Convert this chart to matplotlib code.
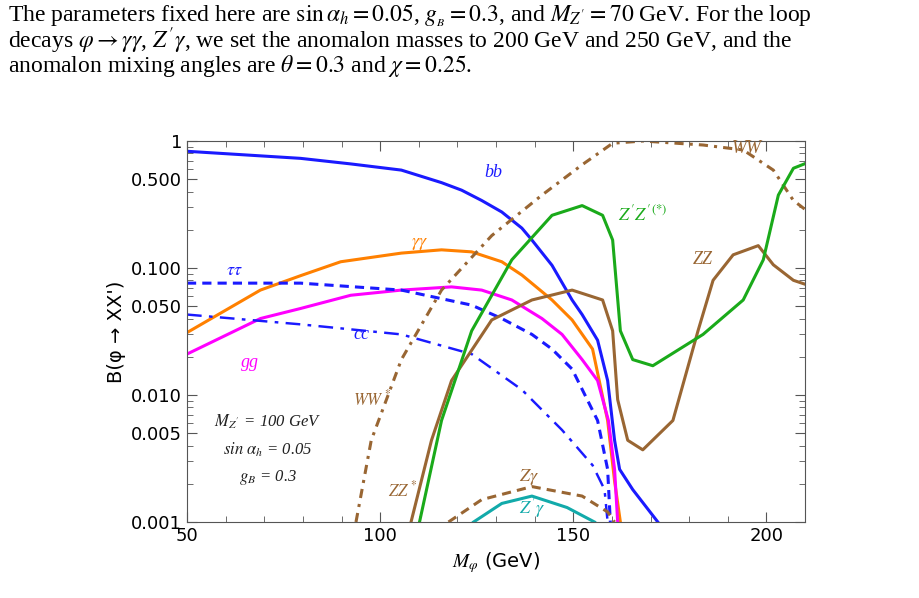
import matplotlib
matplotlib.use("Agg")
import matplotlib.pyplot as plt
from matplotlib.ticker import FixedLocator, NullFormatter, MultipleLocator

plt.rcParams['mathtext.fontset'] = 'stix'

# branching ratios (M_phi in GeV, B)
bb_x = [50, 79.4, 92.4, 105.5, 115.9, 121.1, 126.3, 131.5, 136.7, 139.3, 144.5, 149.7, 152.3,
        156.3, 158.9, 160.7, 162, 165.4, 171.9]
bb_y = [0.83, 0.73, 0.66, 0.59, 0.47, 0.41, 0.34, 0.276, 0.206, 0.166, 0.105, 0.056, 0.043,
        0.027, 0.013, 0.0044, 0.0026, 0.0018, 0.001]
aa_x = [50, 69, 79.4, 89.8, 105.5, 115.9, 123.7, 131.5, 136.7, 144.5, 149.7, 155, 158.9, 160.7, 162.2]
aa_y = [0.031, 0.067, 0.087, 0.112, 0.131, 0.139, 0.134, 0.112, 0.088, 0.056, 0.039, 0.023,
        0.0063, 0.0021, 0.001]
gg_x = [50, 69, 79.4, 92.4, 105.5, 118.5, 126.3, 134.1, 141.9, 147.1, 152.3, 156.3, 159.1, 160.7, 161.5]
gg_y = [0.021, 0.040, 0.048, 0.061, 0.067, 0.071, 0.067, 0.056, 0.040, 0.030, 0.019, 0.013,
        0.0063, 0.0026, 0.001]
tt_x = [50, 79.4, 105.5, 123.7, 131.5, 139.3, 144.5, 149.7, 156.3, 158.9, 159.6]
tt_y = [0.076, 0.076, 0.067, 0.051, 0.040, 0.030, 0.023, 0.016, 0.0063, 0.0026, 0.001]
cc_x = [50, 79.4, 105.5, 123.7, 136.7, 147.1, 155, 158.1, 158.9]
cc_y = [0.043, 0.036, 0.030, 0.021, 0.011, 0.0053, 0.0028, 0.0018, 0.001]
ww_x = [93.75, 97.7, 105.5, 115.9, 128.9, 141.9, 152.3, 160.2, 168, 183.6, 194, 201.8, 207, 210.9]
ww_y = [0.001, 0.0044, 0.019, 0.067, 0.18, 0.375, 0.65, 0.96, 1.0, 0.93, 0.85, 0.59, 0.34, 0.276]
zz_x = [108, 113.3, 118.5, 128.9, 139.3, 149.7, 157.6, 160.2, 161.5, 164.1, 168, 175.8,
        182.3, 186.2, 191.4, 197.9, 201.8, 207, 210.9]
zz_y = [0.001, 0.0044, 0.013, 0.039, 0.056, 0.067, 0.056, 0.032, 0.0092, 0.0044, 0.0037, 0.0063,
        0.032, 0.08, 0.127, 0.15, 0.106, 0.08, 0.073]
zpzp_x = [110.2, 115.9, 123.7, 134.1, 144.5, 152.3, 157.6, 160.2, 162.2, 165.4, 170.6, 183.6,
          194, 199.2, 203.1, 207, 210.9]
zpzp_y = [0.001, 0.0063, 0.032, 0.116, 0.26, 0.31, 0.26, 0.166, 0.032, 0.019, 0.017, 0.030,
          0.056, 0.116, 0.375, 0.61, 0.68]
za_x = [117.7, 126.3, 139.3, 152.3, 158.9, 160.7]
za_y = [0.001, 0.0015, 0.0019, 0.0016, 0.0012, 0.001]
zpa_x = [124.2, 131.5, 139.3, 148.4, 155.5]
zpa_y = [0.001, 0.0014, 0.0016, 0.0013, 0.001]

blue = '#1a1aff'
orange = '#ff8000'
magenta = '#ff00ff'
brown = '#996633'
green = '#1aaa1a'
cyan = '#12aaaa'

fig = plt.figure(figsize=(9.19, 5.98), dpi=100)

# paragraph above the figure
para = [
    r"The parameters fixed here are $\sin\alpha_h = 0.05$, $g_{_B} = 0.3$, and $M_{Z'} = 70$ GeV. For the loop",
    r"decays $\varphi \rightarrow \gamma\gamma$, $Z'\gamma$, we set the anomalon masses to 200 GeV and 250 GeV, and the",
    r"anomalon mixing angles are $\theta = 0.3$ and $\chi = 0.25$.",
]
for i, line in enumerate(para):
    fig.text(0.009, 1 - (16 + 25 * i) / 598, line, family='Liberation Serif', fontsize=17,
             va='center', ha='left')

ax = fig.add_axes([187 / 919, 76 / 598, 618 / 919, 381 / 598])
lw = 2.2
ax.plot(bb_x, bb_y, color=blue, lw=lw)
ax.plot(aa_x, aa_y, color=orange, lw=lw)
ax.plot(gg_x, gg_y, color=magenta, lw=lw)
ax.plot(tt_x, tt_y, color=blue, lw=lw, ls=(0, (3, 2)))
ax.plot(cc_x, cc_y, color=blue, lw=lw * 0.8, ls=(0, (6, 3, 1.5, 3)))
ax.plot(ww_x, ww_y, color=brown, lw=lw, ls=(0, (3, 2, 1, 2)))
ax.plot(zz_x, zz_y, color=brown, lw=lw)
ax.plot(zpzp_x, zpzp_y, color=green, lw=lw)
ax.plot(za_x, za_y, color=brown, lw=lw, ls=(0, (3, 2)))
ax.plot(zpa_x, zpa_y, color=cyan, lw=lw)

ax.set_yscale('log')
ax.set_xlim(50, 210)
ax.set_ylim(0.001, 1)
ax.yaxis.set_major_locator(FixedLocator([0.001, 0.005, 0.01, 0.05, 0.1, 0.5, 1]))
ax.set_yticklabels(['0.001', '0.005', '0.010', '0.050', '0.100', '0.500', '1'])
ax.yaxis.set_minor_formatter(NullFormatter())
ax.xaxis.set_major_locator(MultipleLocator(50))
ax.xaxis.set_minor_locator(MultipleLocator(10))
ax.tick_params(which='both', direction='in', top=True, right=True, labelsize=13, color='#555555')
ax.tick_params(which='major', length=7)
ax.tick_params(which='minor', length=4)
for s in ax.spines.values():
    s.set_color('#555555')

ax.set_xlabel(r"$M_\varphi$ (GeV)", fontsize=14)
ax.set_ylabel("B(φ → XX')", fontsize=14)

lab = dict(family='Liberation Serif', style='italic', fontsize=13)
ax.text(127, 0.52, 'bb', color=blue, **lab)
ax.text(108, 0.150, r'$\gamma\gamma$', color=orange, fontsize=13)
ax.text(60, 0.088, r'$\tau\tau$', color=blue, fontsize=13)
ax.text(64, 0.0165, 'gg', color=magenta, **lab)
ax.text(93, 0.0275, 'cc', color=blue, **lab)
ax.text(93, 0.0083, r'$WW^*$', color=brown, fontsize=12)
ax.text(191, 0.8, 'WW', color=brown, **lab)
ax.text(181, 0.108, 'ZZ', color=brown, **lab)
ax.text(161.5, 0.235, r"$Z'Z'^{(*)}$", color=green, fontsize=13)
ax.text(102, 0.0016, r'$ZZ^*$', color=brown, fontsize=12)
ax.text(136, 0.0021, r'$Z\gamma$', color=brown, fontsize=13)
ax.text(136, 0.00117, r"$Z'\gamma$", color=cyan, fontsize=13)
ax.text(71, 0.0037, r"$M_{Z'}$ = 100 GeV" + "\n" + r"$sin\ \alpha_h$ = 0.05" + "\n" + r"$g_B$ = 0.3",
        ha='center', va='center', linespacing=1.7, fontsize=12, family='Liberation Serif',
        style='italic', color='#222222')

fig.savefig('out.png', dpi=100)
